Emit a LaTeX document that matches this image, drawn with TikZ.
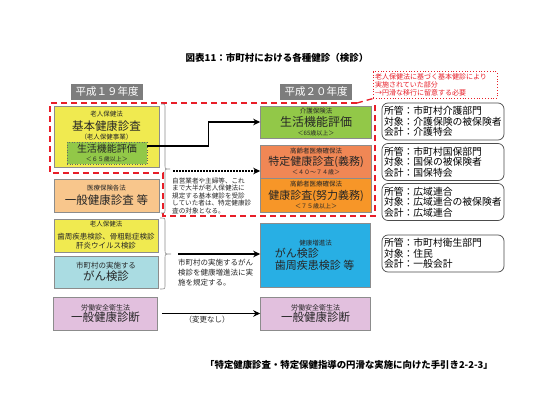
\documentclass[tikz,border=0pt]{standalone}
\usepackage{fontspec}
\setmainfont{Noto Sans CJK JP}
\usetikzlibrary{arrows.meta,positioning,calc}
\definecolor{kyellow}{RGB}{240,234,80}
\definecolor{kgreen}{RGB}{146,200,72}
\definecolor{kpeach}{RGB}{248,198,140}
\definecolor{kcyan}{RGB}{170,220,226}
\definecolor{kpink}{RGB}{226,192,222}
\definecolor{ksalmon}{RGB}{240,135,85}
\definecolor{korange}{RGB}{247,150,40}
\definecolor{kblue}{RGB}{40,175,228}
\definecolor{kred}{RGB}{232,30,40}
\definecolor{kgray}{RGB}{125,125,125}
\newcommand{\fs}[1]{\fontsize{#1}{#1}\selectfont}

\begin{document}
\begin{tikzpicture}[x=1pt, y=-1pt,
  hbox/.style={rectangle, fill=kgray, text=white, minimum width=72, minimum height=16,
               inner sep=0pt, font=\fs{10.5}},
  kbox/.style={rectangle, draw=black!45, line width=0.6pt, inner sep=1pt,
               align=center, text=black!85, font=\fontsize{6.5}{9}\selectfont},
  ibox/.style={rectangle, draw=black!70, line width=0.7pt, rounded corners=6pt,
               text width=118, align=left, inner sep=2pt, minimum height=37,
               font=\fontsize{9.8}{10.6}\selectfont},
  note/.style={align=left, inner sep=1pt, text=black!85},
  brc/.style={draw=black!45, line width=0.6pt},
  reddash/.style={draw=kred, line width=1.3pt, dash pattern=on 6pt off 4pt},
  arr/.style={-{Stealth[length=7pt, width=6.5pt]}, line width=1.5pt},
  darr/.style={-{Stealth[length=7pt, width=6.5pt]}, line width=1.5pt, dash pattern=on 1.5pt off 1.5pt}
]
\useasboundingbox[fill=white] (0,0) rectangle (550,410);

% Title
\node[font=\bfseries\fs{9.5}] (title) at (277,58) {図表11：市町村における各種健診（検診）};

% Year headers
\node[hbox] (h19) at (107,92) {平成１９年度};
\node[hbox] (h20) at (316,92) {平成２０年度};

% Left column (H19)
\node[kbox, fill=kyellow, minimum width=105, minimum height=61] (kihon) at (106.5,136.5) {};
\node[align=center, inner sep=0pt, text=black!85, font=\fontsize{6.5}{9}\selectfont] (kihontxt) at (106.5,125.5)
  {\fs{6.5}老人保健法\\[2pt]\fs{11.5}基本健康診査\\\fs{6.5}（老人保健事業）};
\node[kbox, fill=kgreen, draw=black!60, dotted, minimum width=80, minimum height=22] (seikatsu) at (107,153)
  {\fs{10}生活機能評価\\\fs{6}＜６５歳以上＞};

\node[kbox, fill=kpeach, minimum width=105, minimum height=33] (ippan) at (106.5,195.5)
  {\fs{6.5}医療保険各法\\[3pt]\fs{11.5}一般健康診査 等};

\node[kbox, fill=kyellow, minimum width=104, minimum height=33] (shishu) at (106,235.5)
  {\fs{6.5}老人保健法\\[4pt]\fs{7.5}歯周疾患検診、骨粗鬆症検診\\\fs{7.5}肝炎ウイルス検診};

\node[kbox, fill=kcyan, minimum width=104, minimum height=32] (gan) at (106,272)
  {\fs{7.5}市町村の実施する\\[0.5pt]\fs{11.5}がん検診};

\node[kbox, fill=kpink, minimum width=104, minimum height=33] (rodo1) at (105.5,313.5)
  {\fs{7}労働安全衛生法\\[0.5pt]\fs{11.5}一般健康診断};

% Right column (H20)
\node[kbox, fill=kgreen, minimum width=111, minimum height=32] (kaigo) at (316,122)
  {\fs{6.5}介護保険法\\[1pt]\fs{12}生活機能評価\\\fs{6}＜65歳以上＞};
\node[kbox, fill=ksalmon, minimum width=111, minimum height=33] (tokutei) at (316,161.5)
  {\fs{6.5}高齢者医療確保法\\[1pt]\fs{11}特定健康診査(義務)\\\fs{6}＜４０～７４歳＞};
\node[kbox, fill=korange, minimum width=111, minimum height=34] (kenshin) at (316,195)
  {\fs{6.5}高齢者医療確保法\\[2pt]\fs{11}健康診査(努力義務)\\\fs{6}＜７５歳以上＞};
\node[kbox, fill=kblue, minimum width=110, minimum height=64] (zoshin) at (315.5,255)
  {\fs{6.5}健康増進法\\[1pt]\fs{11}\makebox[7.4em][l]{がん検診}\\[1pt]\fs{11}\makebox[7.4em][l]{歯周疾患検診 等}};
\node[kbox, fill=kpink, minimum width=110, minimum height=33] (rodo2) at (315.5,313.5)
  {\fs{7}労働安全衛生法\\[0.5pt]\fs{11.5}一般健康診断};

% Info boxes
\node[ibox] (info1) at (443,121.5) {所管：市町村介護部門\\対象：介護保険の被保険者\\会計：介護特会};
\node[ibox] (info2) at (443,162) {所管：市町村国保部門\\対象：国保の被保険者\\会計：国保特会};
\node[ibox] (info3) at (443,202) {所管：広域連合\\対象：広域連合の被保険者\\会計：広域連合};
\node[ibox] (info4) at (443,253.5) {所管：市町村衛生部門\\対象：住民\\会計：一般会計};

% Callout
\node[draw=kred, dotted, line width=0.8pt, text=kred, text width=120, align=left, inner sep=2pt,
      minimum height=26, font=\fontsize{7}{8}\selectfont] (callout) at (435,85)
  {老人保健法に基づく基本健診により\\実施されていた部分\\→円滑な移行に留意する必要};

% Red dashed region
\draw[reddash] (357,103) -- (50,103) -- (50,173) -- (163,173) -- (163,216) -- (375,216) -- (375,104);
\draw[reddash] (357,103) -- (callout.south west);

% Braces
\draw[brc] (161,104) .. controls (165,104) .. (165,108) -- (165,165)
  .. controls (165,169) .. (170,169) .. controls (165,169) .. (165,173) -- (165,209)
  .. controls (165,213) .. (161,213);
\draw[brc] (160,218) .. controls (165,218) .. (165,222) -- (165,250)
  .. controls (165,254) .. (171,254) .. controls (165,254) .. (165,258) -- (165,285)
  .. controls (165,289) .. (160,289);
\coordinate (tip1) at (173,171);
\coordinate (tip2) at (178,254);

% Notes
\node[note, anchor=north west, font=\fontsize{6.6}{7.5}\selectfont] (jiei) at (171,176.5)
  {自営業者や主婦等、これ\\まで大半が老人保健法に\\規定する基本健診を受診\\していた者は、特定健康診\\査の対象となる。};
\node[note, anchor=north west, font=\fontsize{7.5}{10}\selectfont] (gannote) at (177,257.5)
  {市町村の実施するがん\\検診を健康増進法に実\\施を規定する。};
\node[font=\fs{7.5}, text=black!85] (henko) at (207,320) {（変更なし）};

% Arrows
\draw[arr] ([yshift=7pt]seikatsu.east) -- ++(61,0) |- (kaigo.west);
\draw[darr] (tip1) -- (tip1 -| tokutei.west);
\draw[arr] (tip2) -- (tip2 -| zoshin.west);
\draw[arr, shorten <=4pt] (rodo1.east) -- (rodo2.west);

% Source
\node[font=\bfseries\fs{9.4}] (source) at (349,365) {「特定健康診査・特定保健指導の円滑な実施に向けた手引き2-2-3」};
\end{tikzpicture}
\end{document}
